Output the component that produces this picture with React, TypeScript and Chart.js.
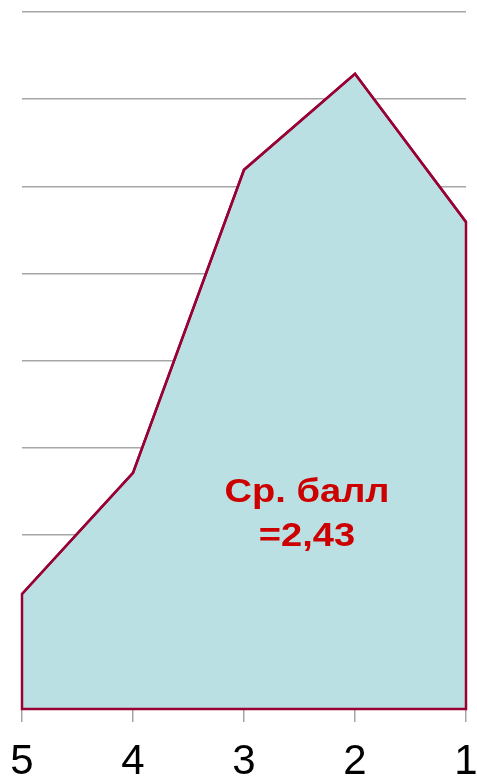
import React, { useEffect, useRef } from "react";
import { Chart, registerables } from "chart.js";

Chart.register(...registerables);

const categories = ["5", "4", "3", "2", "1"];
const values = [1.32, 2.71, 6.19, 7.29, 5.59];
const yMin = 0;
const yMax = 8;
const yStep = 1;
const annotationLines = ["Ср. балл", "=2,43"];

const FILL = "#BBE0E3";
const LINE = "#990033";
const GRID = "#A6A6A6";
const TEXT_RED = "#CC0000";

const outlinePlugin = {
  id: "outline",
  afterDatasetsDraw(chart: any) {
    const meta = chart.getDatasetMeta(0);
    const pts = meta.data;
    if (!pts || !pts.length) return;
    const base = chart.scales.y.getPixelForValue(0);
    const ctx = chart.ctx;
    ctx.save();
    ctx.strokeStyle = LINE;
    ctx.lineWidth = 2.5;
    ctx.lineJoin = "miter";
    ctx.beginPath();
    ctx.moveTo(pts[0].x, pts[0].y);
    for (let i = 1; i < pts.length; i++) ctx.lineTo(pts[i].x, pts[i].y);
    ctx.lineTo(pts[pts.length - 1].x, base);
    ctx.lineTo(pts[0].x, base);
    ctx.closePath();
    ctx.stroke();
    ctx.restore();
  },
};

const annotationPlugin = {
  id: "annotationText",
  afterDraw(chart: any) {
    const { ctx, chartArea } = chart;
    const cx = chartArea.left + (chartArea.right - chartArea.left) * 0.642;
    const y1 = chartArea.top + (chartArea.bottom - chartArea.top) * 0.69;
    const lh = 44;
    const sx = 1.12;
    ctx.save();
    ctx.fillStyle = TEXT_RED;
    ctx.font = "bold 34px 'Liberation Sans', Arial, sans-serif";
    ctx.textAlign = "center";
    ctx.textBaseline = "middle";
    annotationLines.forEach((t, i) => {
      ctx.save();
      ctx.translate(cx, y1 + i * lh);
      ctx.scale(sx, 1);
      ctx.fillText(t, 0, 0);
      ctx.restore();
    });
    ctx.restore();
  },
};

export default function App() {
  const ref = useRef<HTMLCanvasElement>(null);
  useEffect(() => {
    if (!ref.current) return;
    const chart = new Chart(ref.current, {
      type: "line",
      data: {
        labels: categories,
        datasets: [
          {
            data: values,
            fill: "origin",
            backgroundColor: FILL,
            borderColor: LINE,
            borderWidth: 2.5,
            pointRadius: 0,
            tension: 0,
          },
        ],
      },
      options: {
        animation: false,
        responsive: false,
        maintainAspectRatio: false,
        events: [],
        layout: { padding: { left: 22, right: 11, top: 12, bottom: 0 } },
        plugins: { legend: { display: false }, tooltip: { enabled: false }, title: { display: false } },
        scales: {
          x: {
            offset: false,
            afterFit: (scale: any) => {
              scale.paddingLeft = 0;
              scale.paddingRight = 0;
              scale.height = 75;
            },
            grid: {
              drawOnChartArea: false,
              drawTicks: true,
              tickLength: 13,
              color: GRID,
              lineWidth: 1.5,
            },
            border: { display: false },
            ticks: {
              color: "#000",
              font: { family: "'Liberation Sans', Arial, sans-serif", size: 42, lineHeight: 1.0 },
              padding: 19,
              maxRotation: 0,
              autoSkip: false,
            },
          },
          y: {
            min: yMin,
            max: yMax,
            afterFit: (scale: any) => {
              scale.width = 0;
              scale.paddingTop = 0;
              scale.paddingBottom = 0;
            },
            ticks: { display: false, stepSize: yStep },
            grid: { color: GRID, lineWidth: 1.5, drawTicks: false },
            border: { display: false },
          },
        },
      },
      plugins: [outlinePlugin, annotationPlugin],
    });
    return () => chart.destroy();
  }, []);
  return (
    <div style={{ position: "fixed", left: 0, top: 0, width: 477, height: 784, background: "#fff" }}>
      <canvas ref={ref} width={477} height={784} style={{ display: "block" }} />
    </div>
  );
}
